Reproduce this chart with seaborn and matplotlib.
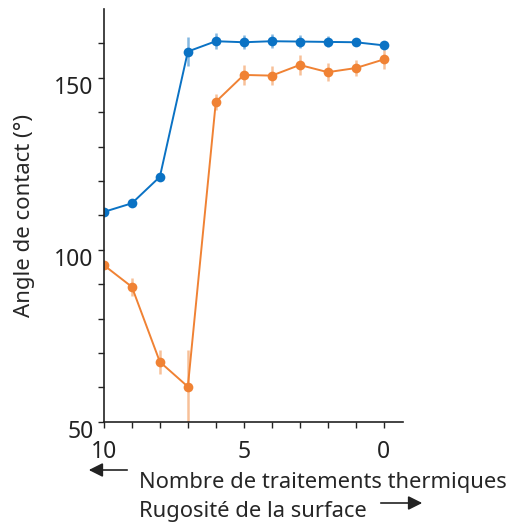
import matplotlib
matplotlib.use('Agg')
import matplotlib.pyplot as plt
import matplotlib.transforms as mtransforms
import seaborn as sns
import pandas as pd

# number of heat treatments
treatments = [10, 9, 8, 7, 6, 5, 4, 3, 2, 1, 0]

blue_angle = [111.0, 113.5, 121.2, 157.6, 160.6, 160.3, 160.6, 160.5, 160.4, 160.3, 159.4]
blue_err = [1.0, 1.0, 1.0, 4.3, 2.4, 2.0, 2.1, 1.9, 1.6, 1.0, 1.4]

orange_angle = [95.5, 89.2, 67.4, 60.2, 143.0, 150.8, 150.6, 153.7, 151.6, 152.8, 155.3]
orange_err = [1.0, 2.7, 3.5, 10.8, 2.4, 2.9, 2.7, 2.8, 2.7, 2.4, 2.8]

blue = '#0a72c4'
orange = '#f08234'

sns.set_style('ticks')
plt.rcParams['font.family'] = ['Noto Sans', 'DejaVu Sans']

df_blue = pd.DataFrame({'x': treatments, 'y': blue_angle})
df_orange = pd.DataFrame({'x': treatments, 'y': orange_angle})

fig = plt.figure(figsize=(5.17, 5.22), dpi=100)
ax = fig.add_axes([0.201, 0.192, 0.578, 0.791])

for df, err, c in [(df_blue, blue_err, blue), (df_orange, orange_err, orange)]:
    ax.errorbar(df['x'], df['y'], yerr=err, fmt='none', ecolor=c, alpha=0.5,
                elinewidth=1.8, capsize=0)
    sns.lineplot(data=df, x='x', y='y', ax=ax, color=c, marker='o',
                 markersize=7, markeredgewidth=0, linewidth=1.4)

ax.set_xlim(10, -0.68)
ax.set_ylim(50, 170)
ax.set_xticks([10, 5, 0])
ax.set_xticks(range(0, 11), minor=True)
ax.set_yticks([50, 100, 150])
ax.set_yticks(range(50, 170, 10), minor=True)
ax.tick_params(axis='both', which='both', direction='out', length=4, width=1,
               labelsize=16.5, colors='#222222')
ax.tick_params(axis='x', pad=9)
ax.set_xlabel('')
ax.set_ylabel('Angle de contact (°)', fontsize=16, labelpad=14)

# y tick labels sit a bit below their ticks in the original
shift = mtransforms.ScaledTranslation(0, -7 / 100, fig.dpi_scale_trans)
for lab in ax.get_yticklabels():
    lab.set_transform(lab.get_transform() + shift)

for s in ['top', 'right']:
    ax.spines[s].set_visible(False)
for s in ['left', 'bottom']:
    ax.spines[s].set_color('#222222')
    ax.spines[s].set_linewidth(1.2)

fig.text(139 / 517, 1 - 488 / 522, 'Nombre de traitements thermiques', fontsize=15.8,
         ha='left', va='baseline')
fig.text(139 / 517, 1 - 517 / 522, 'Rugosité de la surface', fontsize=15.8,
         ha='left', va='baseline')
fig.patches.append(matplotlib.patches.FancyArrowPatch(
    (130 / 517, 1 - 470 / 522), (86 / 517, 1 - 470 / 522), transform=fig.transFigure,
    arrowstyle='-|>,head_length=0.6,head_width=0.3', mutation_scale=14,
    color='#222222', linewidth=1.2))
fig.patches.append(matplotlib.patches.FancyArrowPatch(
    (378 / 517, 1 - 503 / 522), (425 / 517, 1 - 503 / 522), transform=fig.transFigure,
    arrowstyle='-|>,head_length=0.6,head_width=0.3', mutation_scale=14,
    color='#222222', linewidth=1.2))

fig.savefig('out.png', dpi=100)
